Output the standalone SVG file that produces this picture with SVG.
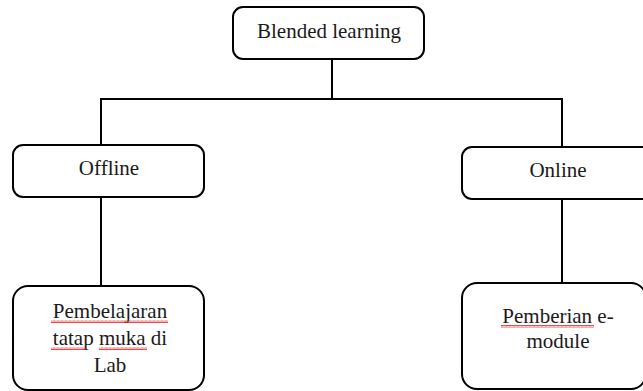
<svg xmlns="http://www.w3.org/2000/svg" width="643" height="391" viewBox="0 0 643 391">
<defs>
<style>
.box{fill:#fff;stroke:#000;stroke-width:2}
.lbl{font-family:"Liberation Serif","Times New Roman",serif;font-size:21px;fill:#1a1a1a;text-anchor:middle}
.conn{stroke:#000;stroke-width:2;fill:none}
.wavy{fill:url(#wave)}
</style>
<pattern id="wave" x="0" y="0" width="4" height="3" patternUnits="userSpaceOnUse">
<path d="M0,2.5 L1,0.5 L2,2.5 L3,0.5 L4,2.5" fill="none" stroke="#e02020" stroke-width="0.8"/>
</pattern>
</defs>
<rect width="643" height="391" fill="#fff"/>
<g id="connectors">
<line class="conn" x1="332" y1="59" x2="332" y2="99"/>
<polyline class="conn" points="101,145 101,99 562,99 562,147"/>
<line class="conn" x1="101" y1="197" x2="101" y2="286"/>
<line class="conn" x1="562" y1="199" x2="562" y2="283"/>
</g>
<g id="node-blended">
<rect class="box" x="233" y="7" width="191" height="52" rx="10"/>
<text class="lbl" x="329" y="38">Blended learning</text>
</g>
<g id="node-offline">
<rect class="box" x="13" y="145" width="191" height="52" rx="10"/>
<text class="lbl" x="109" y="175">Offline</text>
</g>
<g id="node-online">
<rect class="box" x="462" y="147" width="192" height="52" rx="10"/>
<text class="lbl" x="558" y="177">Online</text>
</g>
<g id="node-tatap-muka">
<rect class="box" x="13" y="286" width="191" height="104" rx="15"/>
<text class="lbl" x="110" y="318">Pembelajaran</text>
<text class="lbl" x="110" y="345">tatap muka di</text>
<text class="lbl" x="110" y="372">Lab</text>
<rect class="wavy" x="51" y="320" width="117" height="3"/>
<rect class="wavy" x="51" y="347" width="35" height="3"/>
<rect class="wavy" x="99" y="347" width="48" height="3"/>
</g>
<g id="node-emodule">
<rect class="box" x="462" y="283" width="184" height="106" rx="15"/>
<text class="lbl" x="558" y="323">Pemberian e-</text>
<text class="lbl" x="558" y="348">module</text>
<rect class="wavy" x="501" y="325" width="93" height="3"/>
</g>
</svg>
